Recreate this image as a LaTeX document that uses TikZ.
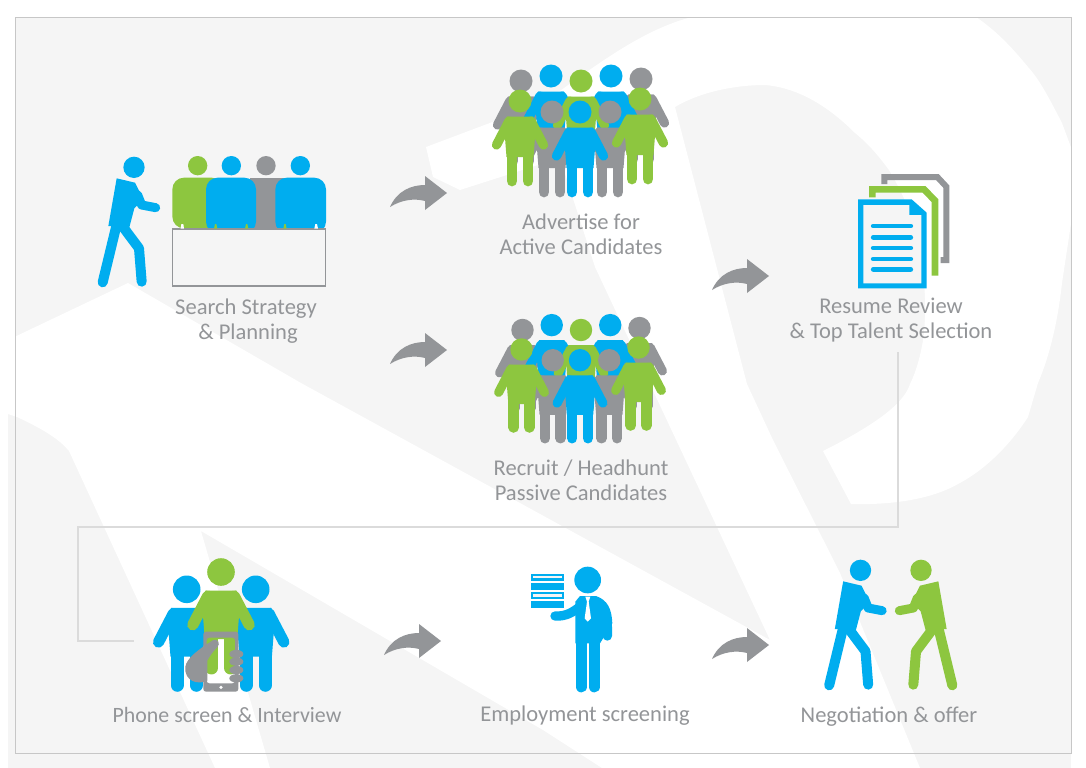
\documentclass[tikz,border=0pt]{standalone}
\usepackage{fontspec}
\setmainfont{Carlito}
\definecolor{bgg}{HTML}{F5F5F5}
\definecolor{ig}{HTML}{939598}
\definecolor{ib}{HTML}{00ADEF}
\definecolor{ig2}{HTML}{8DC63F}
\newcommand\person[4]{%
  \begin{scope}[shift={(#1,#2)},scale=#3]
    \fill[#4] (0,0) circle (11.5);
    \fill[#4] (-13,15.5) -- (13,15.5) -- (16,24) -- (13.5,56) -- (-13.5,56) -- (-16,24) -- cycle;
    \draw[#4,line cap=round,line width=#3*7pt] (-11,20) -- (-23.5,44);
    \draw[#4,line cap=round,line width=#3*7pt] (11,20) -- (23.5,44);
    \draw[#4,line cap=round,line width=#3*8.1pt] (-8,50) -- (-8,80);
    \draw[#4,line cap=round,line width=#3*8.1pt] (8,50) -- (8,80);
  \end{scope}}
\newcommand\crowd[3]{%
  \begin{scope}[shift={(#1,#2)}]
    \person{-60*#3}{0}{#3}{ig}
    \person{60*#3}{-2*#3}{#3}{ig}
    \person{-30*#3}{-5*#3}{#3}{ib}
    \person{30*#3}{-5*#3}{#3}{ib}
    \person{0}{0}{#3}{ig2}
    \person{-29*#3}{31*#3}{#3}{ig}
    \person{29*#3}{31*#3}{#3}{ig}
    \person{-61*#3}{20*#3}{#3}{ig2}
    \person{59*#3}{18*#3}{#3}{ig2}
    \person{-1*#3}{31*#3}{#3}{ib}
  \end{scope}}
\newcommand\walkshape[1]{%
  \fill[#1] (132,82) circle (32);
  \fill[#1] (80,115) -- (135,128) -- (160,178) -- (133,205) -- (118,262) -- (55,258) -- cycle;
  \draw[#1,line cap=round,line join=round,line width=6.75pt] (143,165) -- (155,195) -- (197,203);
  \draw[#1,line cap=round,line width=7.5pt] (78,262) -- (38,427);
  \draw[#1,line cap=round,line join=round,line width=7.5pt] (100,262) -- (147,325) -- (155,425);}
\newcommand\harrow[2]{%
  \fill[ig,shift={(#1,#2)}] (-57,14) .. controls (-50,-2) and (-36,-8) .. (-22,-8) -- (-22,-17) -- (0,0) -- (-22,17) -- (-22,8) .. controls (-33,5) and (-46,7) .. (-57,14) -- cycle;}
\tikzset{lab/.style={align=center,text=ig,font=\fontsize{16.9pt}{18.75pt}\selectfont,inner sep=0pt},
  conn/.style={draw=black!14,line width=.8pt}}
\begin{document}
\begin{tikzpicture}[x=.75pt,y=-.75pt]
\useasboundingbox (0,0) rectangle (1086,768);
\fill[white] (0,0) rectangle (1086,768);
% watermark background
\fill[bgg] (15,17) rectangle (1071,414);
\fill[bgg] (8,414) rectangle (1071,768);
\fill[white] (128,283) -- (8,340) -- (8,414) -- (17,417) .. controls (45,430) and (60,440) .. (69,451) -- (104,527) -- (215,768) -- (270,768) -- (201,531) -- (543,730) -- (602,768) -- (920,768) -- (840,573) -- (773,440) -- (747,384) -- (675,107)
 .. controls (700,92) and (735,85) .. (765,85) .. controls (800,88) and (830,108) .. (855,133) .. controls (870,145) and (880,158) .. (889,170) .. controls (910,205) and (924,245) .. (924,283) .. controls (926,305) and (925,320) .. (924,333) .. controls (922,350) and (917,370) .. (910,384) .. controls (905,400) and (885,420) .. (823,451)
 -- (851,504) .. controls (890,505) and (930,500) .. (958,484) .. controls (985,470) and (1010,445) .. (1028,417) -- (1038,383) .. controls (1050,355) and (1058,320) .. (1062,283) -- (1072,217) -- (1072,150) -- (1062,123) .. controls (1050,100) and (1040,80) .. (1028,67) .. controls (1010,45) and (995,30) .. (976,17) -- (692,17) .. controls (640,30) and (590,70) .. (543,103) -- (426,147) -- (433,177) -- (460,190) -- (560,158) -- (595,267) -- (770,640) -- (301,383) -- cycle;
\draw[black!22,line width=.75pt] (15,17) rectangle (1071,753);
% connector
\coordinate (c0) at (898,352);
\coordinate (c1) at (898,527);
\coordinate (c2) at (78,527);
\coordinate (c3) at (78,641);
\coordinate (c4) at (134,641);
\draw[conn] (c0) -- (c1) -- (c2) -- (c3) -- (c4);
% walker + table
\begin{scope}[shift={(90,140)},x=.25pt,y=-.25pt]
  \walkshape{ib}
  \fill[ig] (480,113) rectangle (590,265);
  \fill[ig2,rounded corners=8.75pt] (247,113) -- (400,113) -- (400,265) -- (247,265) -- cycle;
  \fill[ib,rounded corners=8.75pt] (348,113) -- (498,113) -- (498,280) -- (348,280) -- cycle;
  \fill[ib,rounded corners=8.75pt] (556,113) -- (708,113) -- (708,280) -- (556,280) -- cycle;
  \fill[ig2] (323,77) circle (29);
  \fill[ib] (424,77) circle (29);
  \fill[ig] (528,77) circle (29);
  \fill[ib] (631,77) circle (29);
  \draw[ig,fill=bgg,line width=.9pt] (248,267) rectangle (706,438);
  \fill[white] (274,252) -- (280,252) -- (282,266) -- (272,266) -- cycle;
  \fill[white] (676,252) -- (681,252) -- (684,266) -- (673,266) -- cycle;
  \fill[ig2] (375,252) -- (379,252) -- (382,266) -- (372,266) -- cycle;
  \fill[ig2] (468,252) -- (472,252) -- (475,266) -- (465,266) -- cycle;
  \fill[ig2] (583,252) -- (587,252) -- (590,266) -- (580,266) -- cycle;
\end{scope}
\node[lab] (n1) at (246,321) {Search Strategy\\ \hspace*{3pt}\& Planning};
\crowd{581}{81}{1}
\node[lab] (n2) at (581,234.5) {Advertise for\\Active Candidates};
\crowd{581}{330}{.975}
\node[lab] (n3) at (581,480) {Recruit / Headhunt\\Passive Candidates};
% documents
\begin{scope}[shift={(700,160)},x=.25pt,y=-.25pt]
  \draw[ig,line width=4.5pt] (553,72) -- (553,51) -- (712,51) -- (739,80) -- (739,300) -- (722,300);
  \draw[ig2,line width=5pt] (517,112) -- (517,88) -- (672,88) -- (705,122) -- (705,337) -- (695,337);
  \fill[ib] (474,118) -- (635,118) -- (680,158) -- (680,385) -- (474,385) -- cycle;
  \fill[bgg] (490,135) -- (628,135) -- (628,165) -- (664,165) -- (664,370) -- (490,370) -- cycle;
  \foreach \yy in {198,232,264,297,328}
    \draw[ib,line cap=round,line width=3.7pt] (520,\yy) -- (632,\yy);
\end{scope}
\node[lab] (n4) at (891,320) {Resume Review\\\& Top Talent Selection};
% phone group
\person{186.7}{589.3}{1.2}{ib}
\person{255.7}{589.3}{1.2}{ib}
\begin{scope}[shift={(70,550)},x=.25pt,y=-.25pt]
  \fill[white] (408,260) rectangle (497,402);
\end{scope}
\person{221}{572}{1.2}{ig2}
\begin{scope}[shift={(70,550)},x=.25pt,y=-.25pt]
  \fill[white] (408,375) rectangle (497,402);
  \fill[ig,rounded corners=2pt,even odd rule] (400,245) rectangle (505,425) (410,263) rectangle (495,400);
  \fill[white] (453,412) circle (5.5);
  \fill[ig] (346,350) .. controls (350,325) and (385,298) .. (430,270) .. controls (444,266) and (452,280) .. (442,292) .. controls (428,305) and (418,320) .. (412,332) -- (412,392) .. controls (385,405) and (342,395) .. (346,350) -- cycle;
  \foreach \yy in {312,335,360,385}
    \fill[ig] (499,\yy) ellipse (21 and 12.5);
\end{scope}
\node[lab,font=\fontsize{16.4pt}{18.75pt}\selectfont] (n5) at (227,715) {Phone screen \& Interview};
% employment man
\begin{scope}[shift={(520,560)},x=.25pt,y=-.25pt]
  \fill[ib] (33,42) rectangle (132,62);
  \fill[bgg] (40,48) rectangle (127,55);
  \fill[ib] (33,70) rectangle (132,90);
  \fill[ib] (33,97) rectangle (132,117);
  \fill[bgg] (40,103) rectangle (127,110);
  \fill[ib] (33,124) rectangle (132,145);
  \fill[ib] (203,60) circle (40);
  \fill[ib] (180,108) -- (228,108) .. controls (262,120) and (275,145) .. (277,190) -- (240,250) -- (166,250) -- (166,125) -- cycle;
  \draw[ib,line cap=round,line join=round,line width=7pt] (248,150) .. controls (262,170) and (263,195) .. (262,228);
  \draw[ib,line cap=round,line join=round,line width=7pt] (180,140) .. controls (160,155) and (140,170) .. (105,168);
  \draw[ib,line cap=round,line width=8.6pt] (184,240) -- (184,380);
  \draw[ib,line cap=round,line width=8.6pt] (223,240) -- (223,380);
  \fill[white] (196,110) -- (211,110) -- (206,125) -- (213,175) -- (203,185) -- (194,175) -- (201,125) -- cycle;
\end{scope}
\node[lab] (n6) at (585,716) {Employment screening};
% negotiation
\begin{scope}[shift={(816.5,543)},x=.25pt,y=-.25pt]
  \walkshape{ib}
\end{scope}
\begin{scope}[shift={(965,543)},x=-.25pt,y=-.25pt]
  \walkshape{ig2}
\end{scope}
\node[lab] (n7) at (889,717) {Negotiation \& offer};
% arrows
\harrow{447}{193}
\harrow{447}{350}
\harrow{769}{276}
\harrow{441}{641}
\harrow{769}{645}
\end{tikzpicture}
\end{document}
